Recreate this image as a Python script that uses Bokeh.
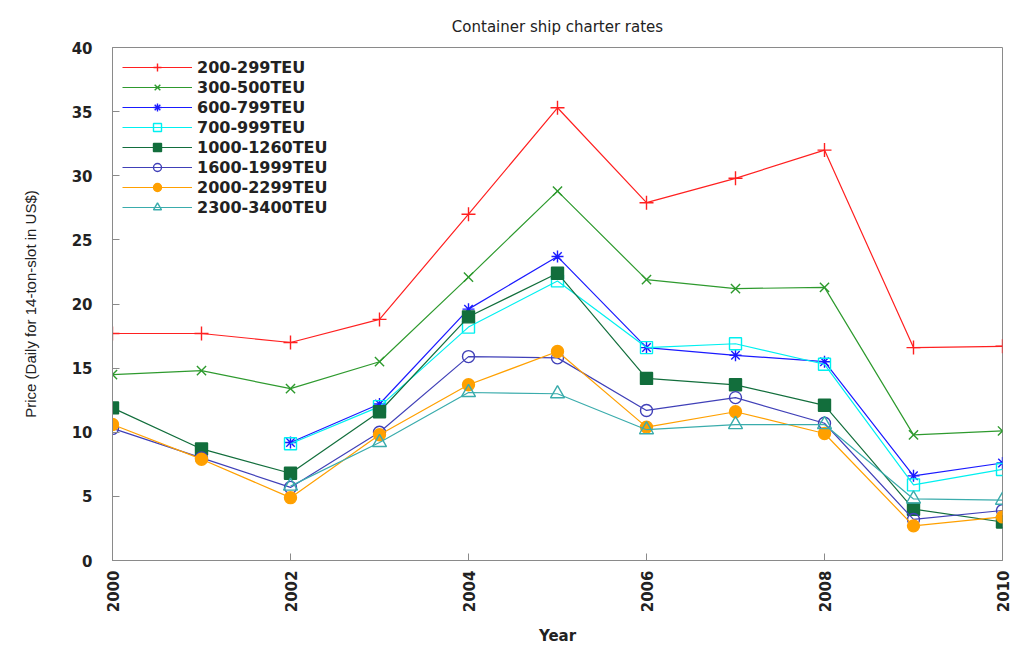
import math
from bokeh.plotting import figure
from bokeh.models import Range1d, FixedTicker, Legend, LegendItem, ColumnDataSource
from bokeh.embed import file_html
from bokeh.resources import INLINE

nan = float("nan")

years = [2000, 2001, 2002, 2003, 2004, 2005, 2006, 2007, 2008, 2009, 2010]
teu_200_299 = [17.7, 17.7, 17.0, 18.8, 27.0, 35.3, 27.9, 29.8, 32.0, 16.6, 16.7]
teu_300_500 = [14.5, 14.8, 13.4, 15.5, 22.1, 28.8, 21.9, 21.2, 21.3, 9.8, 10.1]
teu_600_799 = [nan, nan, 9.2, 12.2, 19.6, 23.7, 16.6, 16.0, 15.5, 6.6, 7.6]
teu_700_999 = [nan, nan, 9.1, 12.0, 18.2, 21.8, 16.6, 16.9, 15.3, 5.9, 7.1]
teu_1000_1260 = [11.9, 8.7, 6.8, 11.6, 19.0, 22.4, 14.2, 13.7, 12.1, 4.0, 3.0]
teu_1600_1999 = [10.3, 8.0, 5.7, 10.0, 15.9, 15.8, 11.7, 12.7, 10.7, 3.2, 3.9]
teu_2000_2299 = [10.6, 7.9, 4.9, 9.8, 13.7, 16.3, 10.4, 11.6, 9.9, 2.7, 3.4]
teu_2300_3400 = [nan, nan, 5.8, 9.2, 13.1, 13.0, 10.2, 10.6, 10.6, 4.8, 4.7]

x_ticks = [2000, 2002, 2004, 2006, 2008, 2010]
y_ticks = [0, 5, 10, 15, 20, 25, 30, 35, 40]

series_names = ["200-299TEU", "300-500TEU", "600-799TEU", "700-999TEU",
                "1000-1260TEU", "1600-1999TEU", "2000-2299TEU", "2300-3400TEU"]
series_values = [teu_200_299, teu_300_500, teu_600_799, teu_700_999,
                 teu_1000_1260, teu_1600_1999, teu_2000_2299, teu_2300_3400]
colors = ["#ff2020", "#2e9a2e", "#1a1aff", "#00f0f0",
          "#126e3c", "#4040b8", "#ffa000", "#3aacac"]
markers = ["cross", "x", "asterisk", "square", "square", "circle", "circle", "triangle"]
filled = [True, True, True, False, True, False, True, False]
sizes = [14, 13, 12, 12, 12, 12, 12, 14]

FONT = "DejaVu Sans"

p = figure(width=1011, height=648, output_backend="svg", toolbar_location=None,
           x_range=Range1d(2000, 2010), y_range=Range1d(0, 40),
           min_border_left=112, min_border_right=9, min_border_top=47,
           min_border_bottom=88, background_fill_color="white",
           border_fill_color="white")

p.title.text = "Container ship charter rates"
p.title.align = "center"
p.title.vertical_align = "top"
p.title.text_font = FONT
p.title.text_font_size = "15px"
p.title.text_font_style = "normal"
p.title.text_color = "#222222"
p.title.standoff = 20

p.xgrid.visible = False
p.ygrid.visible = False
p.outline_line_color = "#8a8a8a"

xa = p.xaxis[0]
xa.ticker = FixedTicker(ticks=x_ticks)
xa.major_label_orientation = math.pi / 2
xa.axis_label = "Year"
ya = p.yaxis[0]
ya.ticker = FixedTicker(ticks=y_ticks)
ya.axis_label = "Price (Daily for 14-ton-slot in US$)"

for ax in (xa, ya):
    ax.major_tick_in = 7
    ax.major_tick_out = 0
    ax.minor_tick_line_color = None
    ax.axis_line_color = "#8a8a8a"
    ax.major_tick_line_color = "#8a8a8a"
    ax.major_label_text_font = FONT
    ax.major_label_text_font_style = "bold"
    ax.major_label_text_font_size = "15px"
    ax.major_label_text_color = "#222222"
    ax.axis_label_text_font = FONT
    ax.axis_label_text_font_style = "bold"
    ax.axis_label_text_color = "#222222"
xa.major_label_standoff = 10
xa.axis_label_text_font_size = "15px"
xa.axis_label_standoff = 12
ya.major_label_standoff = 20
ya.axis_label_text_font = "Liberation Sans"
ya.axis_label_text_font_style = "normal"
ya.axis_label_text_font_size = "15px"
ya.axis_label_standoff = 30

items = []
for name, vals, col, mk, fl, sz in zip(series_names, series_values, colors,
                                      markers, filled, sizes):
    src = ColumnDataSource(dict(x=years, y=vals))
    ln = p.line("x", "y", source=src, line_color=col, line_width=1.2)
    sc = p.scatter("x", "y", source=src, marker=mk, size=sz, line_color=col,
                   line_width=1.4, fill_color=col if fl else None)
    items.append(LegendItem(label=name, renderers=[ln, sc]))

legend = Legend(items=items, location="top_left")
legend.margin = 5
legend.padding = 5
legend.spacing = 0
legend.label_height = 20
legend.glyph_height = 20
legend.glyph_width = 70
legend.label_text_font = FONT
legend.label_text_font_style = "bold"
legend.label_text_font_size = "16px"
legend.label_text_color = "#222222"
legend.background_fill_alpha = 0
legend.border_line_alpha = 0
p.add_layout(legend, "center")

open("out.html", "w").write(file_html(p, INLINE))
